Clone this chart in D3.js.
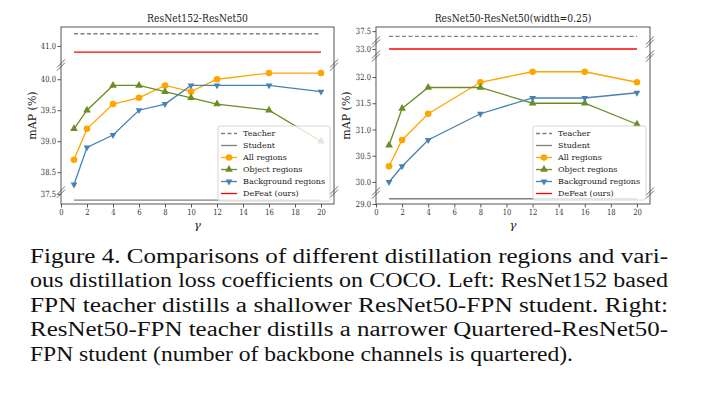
<!DOCTYPE html>
<html>
<head>
<meta charset="utf-8">
<script src="https://cdn.jsdelivr.net/npm/d3@7"></script>
<style>
  body { margin:0; background:#fff; }
  svg { display:block; }
  .tick text { font-family:"DejaVu Serif", serif; font-size:8.5px; fill:#333; }
</style>
</head>
<body>
<svg id="svg1" width="703" height="396"></svg>
<script>
// values
var xTicks = [0,2,4,6,8,10,12,14,16,18,20];

var gammaL = [1,2,4,6,8,10,12,16,20];
var allL = [38.7,39.2,39.6,39.7,39.9,39.8,40.0,40.1,40.1];
var objL = [39.2,39.5,39.9,39.9,39.8,39.7,39.6,39.5,39.0];
var bgL  = [38.3,38.9,39.1,39.5,39.6,39.9,39.9,39.9,39.8];
var teacherL = 41.2, studentL = 37.4, defeatL = 40.9;
var yTicksL = [37.5,38.5,39.0,39.5,40.0,41.0];
var yDomL = [37.34,37.53,38.18,40.23,40.69,41.31]; // broken axis pieces

var gammaR = [1,2,4,8,12,16,20];
var allR = [30.3,30.8,31.3,31.9,32.1,32.1,31.9];
var objR = [30.7,31.4,31.8,31.8,31.5,31.5,31.1];
var bgR  = [30.0,30.3,30.8,31.3,31.6,31.6,31.7];
var teacherR = 37.4, studentR = 29.1, defeatR = 33.0;
var yTicksR = [29.0,30.0,30.5,31.0,31.5,32.0,33.0,37.5];
var yDomR = [29.0,29.21,29.79,32.4,32.87,33.13,37.29,37.58];

var legendNames = ["Teacher","Student","All regions","Object regions","Background regions","DeFeat (ours)"];
var captionLines = [
  "Figure 4. Comparisons of different distillation regions and vari-",
  "ous distillation loss coefficients on COCO. Left: ResNet152 based",
  "FPN teacher distills a shallower ResNet50-FPN student.  Right:",
  "ResNet50-FPN teacher distills a narrower Quartered-ResNet50-",
  "FPN student (number of backbone channels is quartered)."
];

var C = {teacher:'#808080', student:'#808080', all:'#FFA500', obj:'#6B8E23', bg:'#4682B4', defeat:'#FF0000'};
var SERIF = '"DejaVu Serif", serif';
var SQX = 0.8; // the figure text is a bit squeezed sideways

window.onload = function(){
  var svg1 = d3.select('#svg1');
  drawPanel(svg1, {
    title:"ResNet152-ResNet50", left:61, right:334, top:27, bottom:204,
    yDom:yDomL, yRange:[204,192,192,65,65,27], breaks:[192,65],
    gamma:gammaL, all:allL, obj:objL, bg:bgL,
    teacher:teacherL, student:studentL, defeat:defeatL, yTicks:yTicksL,
    ylabelX:36, legend:{x:218,y:126,w:112,h:75}
  });
  drawPanel(svg1, {
    title:"ResNet50-ResNet50(width=0.25)", left:376, right:650, top:27, bottom:204,
    yDom:yDomR, yRange:[204,193,193,56,56,42,42,27], breaks:[193,56,42],
    gamma:gammaR, all:allR, obj:objR, bg:bgR,
    teacher:teacherR, student:studentR, defeat:defeatR, yTicks:yTicksR,
    ylabelX:350, legend:{x:533,y:126,w:113,h:74}
  });
  drawCaption(svg1);
};

function drawPanel(svg, p){
  var g = svg.append('g');
  var x = d3.scaleLinear().domain([0,21]).range([p.left, p.right]);
  var y = d3.scaleLinear().domain(p.yDom).range(p.yRange);

  // axes
  var xa = g.append('g').attr('transform','translate(0,'+p.bottom+')')
    .call(d3.axisBottom(x).tickValues(xTicks).tickSize(3.5).tickPadding(1.8).tickFormat(d3.format('d')));
  var ya = g.append('g').attr('transform','translate('+p.left+',0)')
    .call(d3.axisLeft(y).tickValues(p.yTicks).tickSize(3.5).tickPadding(2.8).tickFormat(d3.format('.1f')));
  [xa,ya].forEach(function(a){
    a.select('.domain').remove();
    a.selectAll('.tick line').attr('stroke','#444').attr('stroke-width',0.9);
    a.selectAll('.tick text').attr('transform','scale('+SQX+',1)');
  });

  // frame
  g.append('rect').attr('x',p.left).attr('y',p.top)
    .attr('width',p.right-p.left).attr('height',p.bottom-p.top)
    .attr('fill','none').attr('stroke','#555').attr('stroke-width',1);

  // break marks
  p.breaks.forEach(function(by){
    [p.left,p.right].forEach(function(bx){
      [-1.6,1.6].forEach(function(o){
        g.append('line')
          .attr('x1',bx-4).attr('y1',by+o+4)
          .attr('x2',bx+4).attr('y2',by+o-4)
          .attr('stroke','#444').attr('stroke-width',0.8);
      });
    });
  });

  var x0 = p.gamma[0], x1 = p.gamma[p.gamma.length-1];
  function hline(v,col,dash){
    g.append('line').attr('x1',x(x0)).attr('x2',x(x1))
      .attr('y1',y(v)).attr('y2',y(v))
      .attr('stroke',col).attr('stroke-width',1.3)
      .attr('stroke-dasharray',dash||null);
  }
  hline(p.teacher,C.teacher,'4,2.5');
  hline(p.student,C.student);
  hline(p.defeat,C.defeat);

  var line = d3.line().x(function(d){ return x(d[0]); }).y(function(d){ return y(d[1]); });
  var series = [
    {vals:p.all, col:C.all, sym:'circle'},
    {vals:p.obj, col:C.obj, sym:'up'},
    {vals:p.bg,  col:C.bg,  sym:'down'}
  ];
  series.forEach(function(s){
    var pts = p.gamma.map(function(gm,i){ return [gm, s.vals[i]]; });
    g.append('path').datum(pts).attr('d',line)
      .attr('fill','none').attr('stroke',s.col).attr('stroke-width',1.3);
    g.selectAll(null).data(pts).enter().append('path')
      .attr('d',function(){ return marker(s.sym); })
      .attr('transform',function(d){ return 'translate('+x(d[0])+','+y(d[1])+')'; })
      .attr('fill',s.col);
  });

  // titles and labels
  g.append('text').attr('transform','translate('+((p.left+p.right)/2)+',21.5) scale(0.8,1)')
    .attr('text-anchor','middle').attr('font-family',SERIF).attr('font-size',11.5)
    .attr('fill','#222').text(p.title);
  g.append('text').attr('transform','translate('+p.ylabelX+','+((p.top+p.bottom)/2)+') rotate(-90)')
    .attr('text-anchor','middle').attr('font-family',SERIF).attr('font-size',11)
    .attr('fill','#222').text('mAP (%)');
  g.append('text').attr('x',(p.left+p.right)/2).attr('y',229)
    .attr('text-anchor','middle').attr('font-family',SERIF).attr('font-size',11.5)
    .attr('font-style','italic').attr('fill','#222').text('γ');

  // legend
  var L = p.legend;
  var lg = g.append('g');
  lg.append('rect').attr('x',L.x).attr('y',L.y).attr('width',L.w).attr('height',L.h)
    .attr('rx',2).attr('fill','#fff').attr('fill-opacity',0.8)
    .attr('stroke','#ccc').attr('stroke-width',0.8);
  var items = [
    {col:C.teacher, dash:'4,2.5'}, {col:C.student}, {col:C.all, sym:'circle'},
    {col:C.obj, sym:'up'}, {col:C.bg, sym:'down'}, {col:C.defeat}
  ];
  items.forEach(function(it,i){
    var ry = L.y + 7.5 + i*12;
    lg.append('line').attr('x1',L.x+3).attr('x2',L.x+19).attr('y1',ry).attr('y2',ry)
      .attr('stroke',it.col).attr('stroke-width',1.3).attr('stroke-dasharray',it.dash||null);
    if(it.sym){
      lg.append('path').attr('d',marker(it.sym))
        .attr('transform','translate('+(L.x+11)+','+ry+')').attr('fill',it.col);
    }
    lg.append('text').attr('x',L.x+25).attr('y',ry+2.8)
      .attr('font-family',SERIF).attr('font-size',8).attr('fill','#222')
      .text(legendNames[i]);
  });
}

function marker(sym){
  if(sym==='circle') return d3.symbol(d3.symbolCircle, 34)();
  var t = d3.symbol(d3.symbolTriangle, 26)();
  if(sym==='up') return t;
  return 'M0,3.9L3.4,-1.95L-3.4,-1.95Z';
}

function drawCaption(svg){
  var left = 30, right = 668, lastRight = 573;
  captionLines.forEach(function(s,i){
    var last = i === captionLines.length-1;
    svg.append('text').attr('x',left).attr('y',262.5 + i*24.5)
      .attr('font-family','"Liberation Serif", "Times New Roman", serif')
      .attr('font-size',20.5).attr('fill','#111')
      .attr('textLength',(last ? lastRight : right)-left)
      .attr('lengthAdjust','spacingAndGlyphs')
      .text(s);
  });
}
</script>
</body>
</html>
